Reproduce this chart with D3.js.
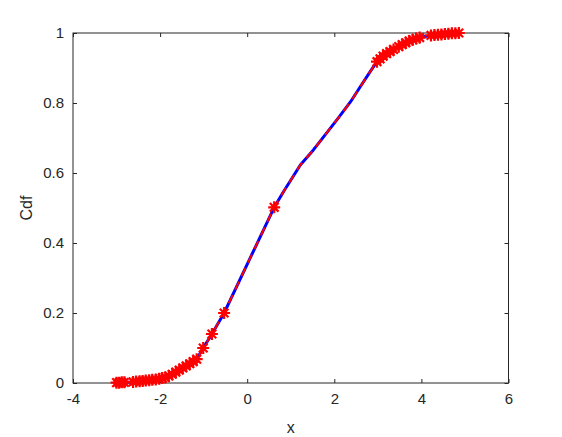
<!DOCTYPE html>
<html>
<head>
<meta charset="utf-8">
<script src="https://cdn.jsdelivr.net/npm/d3@7"></script>
<style>
html,body{margin:0;padding:0;background:#fff;}
svg{display:block;}
text{font-family:"Liberation Sans",Arial,Helvetica,sans-serif;fill:#262626;}
</style>
</head>
<body>
<script>
// CDF curve (blue solid + red dashed overlay)
const curveX = [-3.00,-2.94,-2.88,-2.82,-2.62,-2.55,-2.47,-2.40,-2.33,-2.25,-2.18,-2.10,-2.02,-1.95,-1.88,-1.80,-1.72,-1.64,-1.56,-1.48,-1.40,-1.32,-1.24,-1.16,-1.01,-0.81,-0.53,0.62,0.84,1.22,1.52,2.09,2.37,2.60,2.82,2.98,3.05,3.12,3.20,3.28,3.36,3.48,3.56,3.64,3.72,3.80,3.88,3.96,4.08,4.22,4.30,4.38,4.46,4.54,4.62,4.70,4.78,4.86];
const curveY = [0.001,0.001,0.002,0.002,0.003,0.004,0.005,0.006,0.007,0.008,0.009,0.010,0.012,0.014,0.016,0.020,0.025,0.031,0.037,0.043,0.049,0.055,0.061,0.068,0.100,0.140,0.200,0.502,0.548,0.623,0.666,0.757,0.803,0.847,0.889,0.918,0.926,0.934,0.941,0.947,0.953,0.961,0.967,0.972,0.977,0.981,0.984,0.987,0.990,0.993,0.994,0.995,0.996,0.997,0.998,0.999,0.999,1.000];
// data points marked with '*'
const markX = [-3.00,-2.94,-2.88,-2.82,-2.62,-2.55,-2.47,-2.40,-2.33,-2.25,-2.18,-2.10,-2.02,-1.95,-1.88,-1.80,-1.72,-1.64,-1.56,-1.48,-1.40,-1.32,-1.24,-1.16,-1.01,-0.81,-0.53,0.62,2.98,3.05,3.12,3.20,3.28,3.36,3.48,3.56,3.64,3.72,3.80,3.88,3.96,4.22,4.30,4.38,4.46,4.54,4.62,4.70,4.78,4.86];
const markY = [0.001,0.001,0.002,0.002,0.003,0.004,0.005,0.006,0.007,0.008,0.009,0.010,0.012,0.014,0.016,0.020,0.025,0.031,0.037,0.043,0.049,0.055,0.061,0.068,0.100,0.140,0.200,0.502,0.918,0.926,0.934,0.941,0.947,0.953,0.961,0.967,0.972,0.977,0.981,0.984,0.987,0.993,0.994,0.995,0.996,0.997,0.998,0.999,0.999,1.000];
const xTicks = [-4,-2,0,2,4,6];
const yTicks = [0,0.2,0.4,0.6,0.8,1];
const xLabel = "x";
const yLabel = "Cdf";

const W = 562, H = 437;
const L = 73, R = 508.5, T = 33, B = 383;
const svg = d3.select("body").append("svg").attr("width", W).attr("height", H);

const x = d3.scaleLinear().domain([-4, 6]).range([L, R]);
const y = d3.scaleLinear().domain([0, 1]).range([B, T]);

const fs = 15;
const fmtX = d => String(d);
const fmtY = d => (d === 0 || d === 1) ? String(d) : d.toFixed(1);

// box
svg.append("rect").attr("x", L).attr("y", T).attr("width", R - L).attr("height", B - T)
  .attr("fill", "none").attr("stroke", "#262626").attr("stroke-width", 1);

const xAxis = d3.axisBottom(x).tickValues(xTicks).tickSize(-4).tickPadding(10).tickFormat(fmtX);
const gx = svg.append("g").attr("transform", `translate(0,${B})`).call(xAxis);
gx.select(".domain").remove();
gx.selectAll("line").attr("stroke", "#262626");
gx.selectAll("text").attr("font-size", fs).style("fill", "#262626").attr("font-family", "Liberation Sans, Arial, sans-serif");

const xAxisTop = d3.axisTop(x).tickValues(xTicks).tickSize(-4).tickFormat("");
const gxt = svg.append("g").attr("transform", `translate(0,${T})`).call(xAxisTop);
gxt.select(".domain").remove();
gxt.selectAll("line").attr("stroke", "#262626");

const yAxis = d3.axisLeft(y).tickValues(yTicks).tickSize(-4).tickPadding(9).tickFormat(fmtY);
const gy = svg.append("g").attr("transform", `translate(${L},0)`).call(yAxis);
gy.select(".domain").remove();
gy.selectAll("line").attr("stroke", "#262626");
gy.selectAll("text").attr("font-size", fs).style("fill", "#262626").attr("font-family", "Liberation Sans, Arial, sans-serif");

const yAxisR = d3.axisRight(y).tickValues(yTicks).tickSize(-4).tickFormat("");
const gyr = svg.append("g").attr("transform", `translate(${R},0)`).call(yAxisR);
gyr.select(".domain").remove();
gyr.selectAll("line").attr("stroke", "#262626");

// labels
svg.append("text").attr("x", (L + R) / 2).attr("y", 433).attr("text-anchor", "middle")
  .attr("font-size", fs + 1).text(xLabel);
svg.append("text").attr("transform", `translate(32,${(T + B) / 2}) rotate(-90)`).attr("text-anchor", "middle")
  .attr("font-size", fs + 1).text(yLabel);

const pts = curveX.map((v, i) => [v, curveY[i]]);
const line = d3.line().x(d => x(d[0])).y(d => y(d[1]));

svg.append("path").datum(pts).attr("d", line).attr("fill", "none")
  .attr("stroke", "#0000ff").attr("stroke-width", 3).attr("stroke-linejoin", "round");
svg.append("path").datum(pts).attr("d", line).attr("fill", "none")
  .attr("stroke", "#ff0000").attr("stroke-width", 2).attr("stroke-dasharray", "9,6");

// '*' markers
const r = 6;
const k = r * 0.72;
const star = `M${-r},0L${r},0M0,${-r}L0,${r}M${-k},${-k}L${k},${k}M${-k},${k}L${k},${-k}`;
svg.append("g").selectAll("path").data(markX.map((v, i) => [v, markY[i]])).join("path")
  .attr("transform", d => `translate(${x(d[0])},${y(d[1])})`)
  .attr("d", star).attr("fill", "none").attr("stroke", "#ff0000").attr("stroke-width", 2.2);
</script>
</body>
</html>
